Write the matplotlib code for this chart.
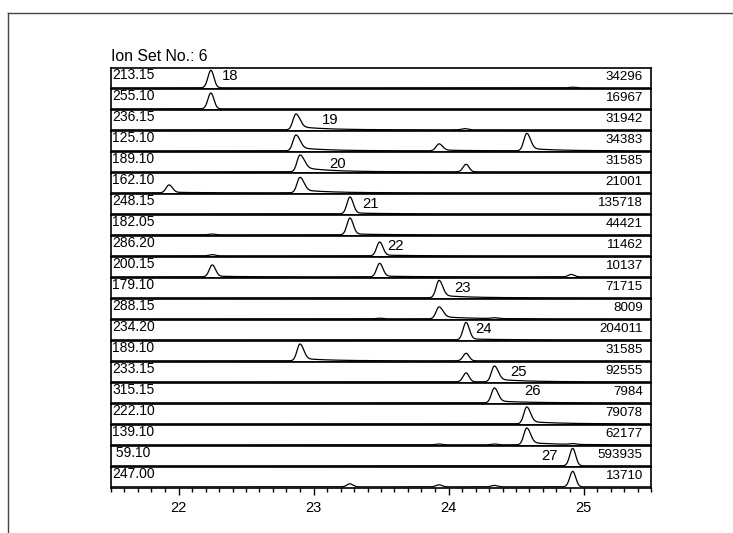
import numpy as np
import matplotlib
matplotlib.use("Agg")
import matplotlib.pyplot as plt
from matplotlib.lines import Line2D
from matplotlib.ticker import MultipleLocator

plt.rcParams["font.family"] = ["Liberation Sans", "DejaVu Sans"]

# ─────────────────────────────────────────────
# Data
# ─────────────────────────────────────────────

ION_SET = "Ion Set No.: 6"

MASSES = ["213.15", "255.10", "236.15", "125.10", "189.10", "162.10", "248.15",
          "182.05", "286.20", "200.15", "179.10", "288.15", "234.20", "189.10",
          "233.15", "315.15", "222.10", "139.10", " 59.10", "247.00"]

INTENSITIES = ["34296", "16967", "31942", "34383", "31585", "21001", "135718",
               "44421", "11462", "10137", "71715", "8009", "204011", "31585",
               "92555", "7984", "79078", "62177", "593935", "13710"]

# peaks per trace: (retention time [min], relative height, tailing fraction)
PEAKS = [
    [(22.24, 0.88, 0.00), (24.92, 0.03, 0.0)],
    [(22.24, 0.80, 0.00)],
    [(22.87, 0.80, 0.22), (24.12, 0.06, 0.0)],
    [(22.87, 0.80, 0.22), (23.93, 0.35, 0.12), (24.58, 0.88, 0.15)],
    [(22.90, 0.85, 0.28), (24.13, 0.38, 0.00)],
    [(21.93, 0.40, 0.08), (22.90, 0.78, 0.20)],
    [(23.27, 0.85, 0.06)],
    [(23.27, 0.85, 0.06), (22.25, 0.04, 0.0)],
    [(23.49, 0.70, 0.06), (22.25, 0.06, 0.0)],
    [(22.25, 0.60, 0.06), (23.49, 0.68, 0.06), (24.91, 0.12, 0.0)],
    [(23.93, 0.88, 0.15)],
    [(23.93, 0.60, 0.20), (24.34, 0.04, 0.0), (23.49, 0.03, 0.0)],
    [(24.13, 0.88, 0.06)],
    [(22.90, 0.85, 0.15), (24.13, 0.38, 0.00)],
    [(24.13, 0.45, 0.00), (24.34, 0.80, 0.18)],
    [(24.34, 0.75, 0.14)],
    [(24.58, 0.85, 0.15)],
    [(24.58, 0.85, 0.15), (23.93, 0.04, 0.0), (24.34, 0.04, 0.0), (24.92, 0.04, 0.0)],
    [(24.92, 0.88, 0.00)],
    [(24.92, 0.78, 0.00), (23.27, 0.15, 0.0), (23.93, 0.10, 0.0), (24.34, 0.07, 0.0)],
]

# compound number labels
LABEL_ROWS = [0, 2, 4, 6, 8, 10, 12, 14, 15, 18]
LABEL_X = [22.32, 23.06, 23.12, 23.36, 23.55, 24.04, 24.20, 24.46, 24.56, 24.69]
LABEL_Y = [0.58, 0.50, 0.40, 0.48, 0.52, 0.48, 0.55, 0.52, 0.58, 0.48]
LABEL_TEXT = ["18", "19", "20", "21", "22", "23", "24", "25", "26", "27"]

X_MIN, X_MAX = 21.5, 25.5


def trace(x, peaks, sigma=0.022, tau=0.2):
    y = np.zeros_like(x)
    for rt, h, tail in peaks:
        s_right = sigma * (1 + 1.5 * tail)
        left = np.exp(-0.5 * ((x - rt) / sigma) ** 2)
        right = np.exp(-0.5 * ((x - rt) / s_right) ** 2)
        decay = tail * np.exp(-np.clip(x - rt, 0, None) / tau)
        shape = np.where(x < rt, left, decay * (1 - right) + right)
        y += h * shape
    return y


# ─────────────────────────────────────────────
# Figure
# ─────────────────────────────────────────────

fig = plt.figure(figsize=(7.33, 5.33), dpi=100)
axes = fig.subplots(len(MASSES), 1, sharex=True)
fig.subplots_adjust(left=111 / 733, right=651 / 733,
                    top=1 - 68 / 533, bottom=1 - 488 / 533, hspace=0)

x = np.linspace(X_MIN, X_MAX, 2000)

for i, ax in enumerate(axes):
    ax.plot(x, trace(x, PEAKS[i]), color="black", linewidth=0.9)
    ax.set_xlim(X_MIN, X_MAX)
    ax.set_ylim(-0.06, 1.0)
    ax.set_yticks([])
    for sp in ax.spines.values():
        sp.set_linewidth(1.2)
    ax.text(0.002, 1.0, MASSES[i], transform=ax.transAxes,
            ha="left", va="top", fontsize=10)
    ax.text(0.985, 0.55, INTENSITIES[i], transform=ax.transAxes,
            ha="right", va="center", fontsize=9.6)
    ax.tick_params(axis="x", which="both", bottom=False, labelbottom=False)

for r, lx, ly, lt in zip(LABEL_ROWS, LABEL_X, LABEL_Y, LABEL_TEXT):
    axes[r].text(lx, ly, lt, ha="left", va="center", fontsize=10.7)

bottom_ax = axes[-1]
bottom_ax.xaxis.set_major_locator(MultipleLocator(1))
bottom_ax.xaxis.set_minor_locator(MultipleLocator(0.1))
bottom_ax.tick_params(axis="x", which="both", bottom=True, labelbottom=True,
                      direction="out", labelsize=10.5, width=1)
bottom_ax.tick_params(axis="x", which="major", length=5, pad=4)
bottom_ax.tick_params(axis="x", which="minor", length=3)

axes[0].set_title(ION_SET, loc="left", fontsize=11.4, pad=5)

# outer frame of the report page
fig.add_artist(Line2D([8 / 733, 8 / 733], [0, 1 - 13 / 533],
                      transform=fig.transFigure, color="#444444", linewidth=1))
fig.add_artist(Line2D([8 / 733, 1], [1 - 13 / 533, 1 - 13 / 533],
                      transform=fig.transFigure, color="#444444", linewidth=1))

fig.savefig("out.png", dpi=100)
